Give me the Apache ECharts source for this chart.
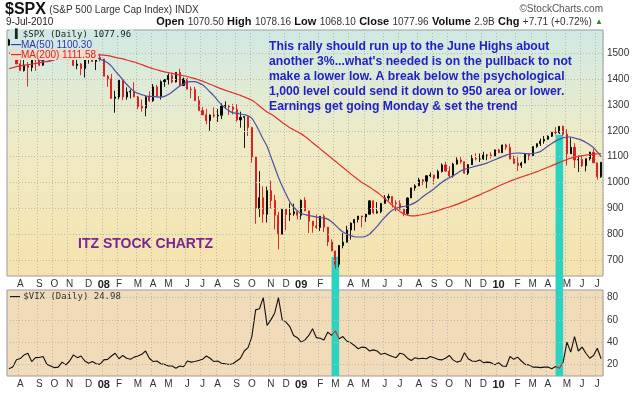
<!DOCTYPE html>
<html>
<head>
<meta charset="utf-8">
<title>$SPX with $VIX</title>
<script src="https://cdn.jsdelivr.net/npm/echarts@6/dist/echarts.min.js"></script>
<style>
  html, body { margin: 0; padding: 0; background: #fff; }
  #main { width: 640px; height: 416px; }
</style>
</head>
<body>
<div id="main"></div>
<script>
// weekly bars (week ending Friday), Jul 2007 - Jul 2010
var weeks = [
  '2007-07-13','2007-07-20','2007-07-27','2007-08-03','2007-08-10','2007-08-17','2007-08-24','2007-08-31',
  '2007-09-07','2007-09-14','2007-09-21','2007-09-28','2007-10-05','2007-10-12','2007-10-19','2007-10-26',
  '2007-11-02','2007-11-09','2007-11-16','2007-11-23','2007-11-30','2007-12-07','2007-12-14','2007-12-21','2007-12-28',
  '2008-01-04','2008-01-11','2008-01-18','2008-01-25','2008-02-01','2008-02-08','2008-02-15','2008-02-22','2008-02-29',
  '2008-03-07','2008-03-14','2008-03-21','2008-03-28','2008-04-04','2008-04-11','2008-04-18','2008-04-25',
  '2008-05-02','2008-05-09','2008-05-16','2008-05-23','2008-05-30','2008-06-06','2008-06-13','2008-06-20','2008-06-27',
  '2008-07-04','2008-07-11','2008-07-18','2008-07-25','2008-08-01','2008-08-08','2008-08-15','2008-08-22','2008-08-29',
  '2008-09-05','2008-09-12','2008-09-19','2008-09-26','2008-10-03','2008-10-10','2008-10-17','2008-10-24','2008-10-31',
  '2008-11-07','2008-11-14','2008-11-21','2008-11-28','2008-12-05','2008-12-12','2008-12-19','2008-12-26',
  '2009-01-02','2009-01-09','2009-01-16','2009-01-23','2009-01-30','2009-02-06','2009-02-13','2009-02-20','2009-02-27',
  '2009-03-06','2009-03-13','2009-03-20','2009-03-27','2009-04-03','2009-04-10','2009-04-17','2009-04-24',
  '2009-05-01','2009-05-08','2009-05-15','2009-05-22','2009-05-29','2009-06-05','2009-06-12','2009-06-19','2009-06-26',
  '2009-07-03','2009-07-10','2009-07-17','2009-07-24','2009-07-31','2009-08-07','2009-08-14','2009-08-21','2009-08-28',
  '2009-09-04','2009-09-11','2009-09-18','2009-09-25','2009-10-02','2009-10-09','2009-10-16','2009-10-23','2009-10-30',
  '2009-11-06','2009-11-13','2009-11-20','2009-11-27','2009-12-04','2009-12-11','2009-12-18','2009-12-25',
  '2010-01-01','2010-01-08','2010-01-15','2010-01-22','2010-01-29','2010-02-05','2010-02-12','2010-02-19','2010-02-26',
  '2010-03-05','2010-03-12','2010-03-19','2010-03-26','2010-04-02','2010-04-09','2010-04-16','2010-04-23','2010-04-30',
  '2010-05-07','2010-05-14','2010-05-21','2010-05-28','2010-06-04','2010-06-11','2010-06-18','2010-06-25','2010-07-02','2010-07-09'
];

var spxOpen = [
  1531,1552,1534,1459,1433,1453,1445,1479,1474,1454,1484,1525,1527,1557,1561,1500,1536,1509,1453,1458,1441,1481,1504,1468,1484,1478,
  1411,1401,1325,1331,1396,1331,1350,1353,1331,1294,1288,1330,1316,1370,1333,1390,1398,1414,1389,1426,1375,1400,1361,1360,1317,1278,
  1262,1239,1261,1257,1260,1296,1298,1292,1283,1242,1252,1255,1213,1099,899,941,877,968,930,873,800,896,876,879,887,873,
  931,890,850,832,826,869,827,770,735,683,756,769,816,843,857,870,866,877,929,882,887,919,940,946,921,918,
  896,879,940,979,987,1010,1005,1026,1029,1016,1042,1068,1044,1025,1071,1087,1080,1036,1069,1093,1091,1091,1106,1106,1102,1126,
  1115,1145,1136,1091,1074,1066,1075,1109,1104,1139,1150,1160,1167,1179,1194,1192,1217,1187,1111,1136,1087,1089,1065,1092,1117,1076,1022
];
var spxHigh = [
  1556,1556,1542,1488,1504,1466,1480,1480,1496,1498,1530,1538,1561,1576,1563,1536,1553,1520,1492,1462,1488,1509,1523,1485,1498,1478,
  1416,1420,1355,1396,1396,1368,1360,1388,1335,1321,1336,1353,1381,1378,1395,1400,1422,1425,1426,1440,1406,1405,1371,1370,1335,1292,
  1285,1263,1291,1285,1306,1314,1300,1304,1303,1274,1256,1255,1214,1099,1044,985,984,1007,952,887,896,896,919,918,887,934,
  943,891,850,877,870,877,827,780,735,758,804,832,845,857,870,871,878,930,930,924,920,951,956,946,931,931,
  898,943,979,993,1018,1013,1027,1039,1029,1049,1074,1080,1063,1076,1097,1101,1081,1071,1106,1113,1112,1119,1108,1117,1128,1130,
  1146,1150,1150,1104,1104,1080,1112,1113,1139,1151,1170,1180,1182,1195,1214,1218,1220,1206,1174,1152,1104,1105,1092,1119,1131,1076,1078
];
var spxLow = [
  1530,1530,1458,1433,1429,1371,1430,1432,1450,1451,1476,1516,1524,1546,1500,1489,1503,1450,1438,1415,1406,1460,1467,1435,1468,1411,
  1370,1325,1270,1322,1318,1320,1325,1330,1283,1274,1256,1312,1312,1331,1321,1370,1379,1384,1387,1373,1373,1361,1326,1316,1278,1260,
  1225,1200,1251,1234,1245,1284,1261,1263,1235,1212,1133,1180,1077,840,866,845,845,899,818,741,800,815,851,871,857,857,
  889,804,805,820,812,808,754,734,666,672,745,767,779,814,845,826,847,877,878,879,881,919,930,903,888,895,
  869,875,940,968,986,990,978,1020,992,1016,1039,1041,1020,1019,1069,1073,1033,1029,1068,1085,1079,1087,1086,1093,1102,1115,
  1115,1126,1090,1071,1044,1056,1075,1086,1104,1134,1141,1150,1165,1176,1186,1188,1181,1066,1111,1056,1040,1060,1043,1085,1076,1011,1018
];
var spxClose = [
  1552,1534,1459,1433,1453,1445,1479,1474,1454,1484,1525,1527,1557,1561,1500,1536,1509,1453,1458,1441,1481,1504,1468,1484,1478,1411,
  1401,1325,1331,1396,1331,1350,1353,1331,1294,1288,1330,1316,1370,1333,1390,1398,1414,1389,1426,1375,1400,1361,1360,1317,1278,1262,
  1239,1261,1257,1260,1296,1298,1292,1283,1242,1252,1255,1213,1099,899,941,877,968,930,873,800,896,876,879,887,873,931,
  890,850,832,826,869,827,770,735,683,756,769,816,843,857,870,866,877,929,882,887,919,940,946,921,918,896,
  879,940,979,987,1010,1005,1026,1029,1016,1042,1068,1044,1025,1071,1087,1080,1036,1069,1093,1091,1091,1106,1106,1102,1126,1115,
  1145,1136,1091,1074,1066,1075,1109,1104,1139,1150,1160,1167,1179,1194,1192,1217,1187,1111,1136,1087,1089,1065,1092,1117,1076,1022,1078
];

var ma50 = [
  1500,1505,1507,1505,1500,1494,1487,1480,1474,1470,1468,1470,1475,1485,1495,1505,1512,1515,1513,1508,1502,1496,1490,1484,1477,1471,
  1463,1450,1432,1415,1398,1380,1365,1352,1345,1340,1335,1333,1333,1331,1330,1333,1340,1350,1362,1373,1381,1388,1390,1390,1385,1378,
  1365,1350,1335,1318,1300,1288,1277,1270,1268,1265,1262,1258,1248,1225,1197,1167,1140,1100,1060,1020,985,955,925,905,890,880,
  876,872,870,866,864,862,858,848,835,820,808,800,795,790,789,789,792,800,815,830,848,865,880,892,900,905,
  907,910,915,922,932,945,955,965,976,988,1000,1010,1018,1026,1035,1044,1050,1055,1059,1063,1067,1071,1076,1082,1088,1094,
  1100,1106,1110,1113,1114,1113,1112,1111,1112,1115,1120,1130,1141,1151,1160,1167,1173,1176,1176,1172,1168,1163,1155,1146,1135,1118,1100
];
var ma200 = [
  1440,1444,1448,1451,1454,1456,1458,1461,1463,1466,1469,1472,1476,1480,1482,1485,1487,1489,1490,1491,1492,1493,1494,1494,1494,1493,
  1491,1488,1484,1481,1478,1474,1470,1466,1461,1456,1450,1445,1440,1436,1432,1428,1425,1422,1419,1416,1413,1410,1406,1402,1397,1392,
  1386,1380,1374,1368,1362,1357,1352,1347,1342,1337,1331,1325,1318,1308,1296,1284,1273,1265,1255,1244,1232,1222,1212,1204,1196,1188,
  1178,1166,1154,1142,1130,1118,1106,1094,1082,1070,1058,1046,1034,1022,1011,1000,991,982,972,962,950,938,925,912,899,888,
  879,873,871,871,873,876,879,883,887,891,896,901,905,910,915,921,927,933,940,946,952,959,965,972,979,986,
  993,999,1005,1011,1016,1021,1026,1031,1036,1041,1047,1053,1059,1065,1071,1077,1083,1089,1094,1098,1101,1104,1106,1108,1109,1111,1112
];

var vix = [
  16.0,17.5,24.2,25.2,28.5,30.0,22.5,26.0,26.2,27.0,20.0,18.5,17.0,17.5,22.0,19.5,23.0,28.5,26.0,27.5,23.0,21.0,22.5,20.5,20.0,24.0,
  24.5,27.5,30.0,25.0,28.0,25.5,24.5,26.5,27.5,29.0,32.0,25.5,22.5,23.0,20.5,20.0,18.5,18.5,16.5,18.5,17.8,23.0,22.0,22.5,23.5,24.5,
  27.5,25.5,22.5,23.0,21.0,20.5,19.8,20.5,23.0,25.5,32.0,35.0,45.0,69.0,70.0,80.0,55.0,60.0,66.0,80.0,60.0,58.0,54.0,46.0,44.0,40.0,
  42.0,46.0,52.0,44.0,43.5,42.0,49.0,46.0,50.0,43.0,45.0,41.0,39.5,37.0,34.0,35.5,35.0,32.0,33.0,32.0,29.0,30.0,28.5,27.0,26.0,30.0,
  29.0,25.5,23.5,26.0,25.0,25.5,25.0,27.0,26.0,24.5,24.0,25.5,28.0,24.0,22.0,23.0,30.5,25.0,23.0,22.5,24.0,21.5,22.0,21.5,19.5,21.5,
  18.5,18.0,27.0,24.5,26.5,23.0,20.0,19.5,17.5,17.5,17.0,17.5,17.5,16.0,18.0,16.5,22.0,40.0,31.0,45.0,32.0,35.5,30.0,25.5,28.0,34.5,25.0
];

var priceTicks = [700, 800, 900, 1000, 1100, 1200, 1300, 1400, 1500];
var vixTicks = [20, 40, 60, 80];
var monthLetters = ['J', 'F', 'M', 'A', 'M', 'J', 'J', 'A', 'S', 'O', 'N', 'D'];
// cyan highlight bands (first week, last week) and the price where they start
var highlights = [['2009-02-27', '2009-03-13'], ['2010-04-16', '2010-04-30']];
var highlightTop = [712, 1185];

var candles = [];
for (var i = 0; i < weeks.length; i++) {
  candles.push([spxOpen[i], spxClose[i], spxLow[i], spxHigh[i]]);
}

function monthStart(index) {
  return index > 0 && weeks[index].slice(5, 7) !== weeks[index - 1].slice(5, 7);
}
function monthLabel(value) {
  var m = parseInt(value.slice(5, 7), 10);
  if (m === 1) {
    return '{y|' + value.slice(2, 4) + '}';
  }
  return monthLetters[m - 1];
}

var gridLine = { color: '#b9b9b0', type: [1, 2], width: 1 };
var cyan = '#2dd3c1';

function timeAxis(gridIndex, show, margin) {
  return {
    type: 'category',
    gridIndex: gridIndex,
    data: weeks,
    show: show,
    boundaryGap: true,
    axisLine: { show: false },
    axisTick: { show: false },
    axisLabel: {
      interval: monthStart,
      formatter: monthLabel,
      margin: margin,
      color: '#333',
      fontSize: 10,
      fontFamily: 'Arial',
      rich: { y: { fontWeight: 'bold', fontSize: 11, color: '#222', fontFamily: 'Arial' } }
    },
    splitLine: { show: true, interval: monthStart, lineStyle: gridLine }
  };
}

function tickLines(ticks) {
  return {
    silent: true,
    symbol: ['none', 'none'],
    lineStyle: gridLine,
    label: {
      position: 'end',
      distance: 4,
      color: '#333',
      fontSize: 10,
      fontFamily: 'Arial',
      formatter: function (p) { return p.value; }
    },
    data: ticks.map(function (v) { return { yAxis: v }; })
  };
}

var myChart = echarts.init(document.getElementById('main'));

myChart.setOption({
  animation: false,
  grid: [
    {
      left: 7, right: 37, top: 30, height: 246,
      show: true, borderColor: '#9c9c9c', borderWidth: 1,
      backgroundColor: {
        type: 'linear', x: 0, y: 0, x2: 0, y2: 1,
        colorStops: [
          { offset: 0, color: '#d0e9e4' },
          { offset: 0.45, color: '#eeebc6' },
          { offset: 1, color: '#f6e2ad' }
        ]
      }
    },
    {
      left: 7, right: 37, top: 290, height: 86,
      show: true, borderColor: '#9c9c9c', borderWidth: 1,
      backgroundColor: '#f1dbb8'
    },
    { left: 7, right: 37, top: 276, height: 14, show: false }
  ],
  xAxis: [
    timeAxis(0, true, 3),
    timeAxis(1, true, 3),
    { type: 'category', gridIndex: 2, data: weeks, show: false }
  ],
  yAxis: [
    { type: 'value', gridIndex: 0, min: 638, max: 1590, show: false },
    { type: 'value', gridIndex: 1, min: 9.5, max: 86.9, show: false },
    { type: 'value', gridIndex: 2, min: 0, max: 1, show: false }
  ],
  visualMap: {
    show: false,
    type: 'piecewise',
    seriesIndex: 4,
    dimension: 0,
    pieces: [
      { gte: weeks.indexOf(highlights[0][0]), lte: weeks.indexOf(highlights[0][1]), color: '#e31b1b' },
      { gte: weeks.indexOf(highlights[1][0]), lte: weeks.indexOf(highlights[1][1]), color: '#e31b1b' }
    ],
    outOfRange: { color: '#111' }
  },
  series: [
    {
      name: '$SPX',
      type: 'candlestick',
      xAxisIndex: 0,
      yAxisIndex: 0,
      data: candles,
      barWidth: 1.6,
      z: 4,
      itemStyle: {
        color: '#000',
        color0: '#d61a1a',
        borderColor: '#000',
        borderColor0: '#d61a1a',
        borderWidth: 0.9
      }
    },
    {
      name: 'MA(50)',
      type: 'line',
      xAxisIndex: 0,
      yAxisIndex: 0,
      data: ma50,
      symbol: 'none',
      smooth: 0.3,
      z: 5,
      lineStyle: { color: '#4b50a6', width: 1.2 }
    },
    {
      name: 'MA(200)',
      type: 'line',
      xAxisIndex: 0,
      yAxisIndex: 0,
      data: ma200,
      symbol: 'none',
      smooth: 0.3,
      z: 5,
      lineStyle: { color: '#e2302b', width: 1.2 }
    },
    {
      name: 'price grid',
      type: 'line',
      xAxisIndex: 0,
      yAxisIndex: 0,
      data: [],
      z: 1,
      markLine: tickLines(priceTicks),
      markArea: {
        silent: true,
        itemStyle: { color: cyan },
        data: [
          [{ xAxis: highlights[0][0], yAxis: highlightTop[0] }, { xAxis: highlights[0][1], yAxis: 638 }],
          [{ xAxis: highlights[1][0], yAxis: highlightTop[1] }, { xAxis: highlights[1][1], yAxis: 638 }]
        ]
      }
    },
    {
      name: '$VIX',
      type: 'line',
      xAxisIndex: 1,
      yAxisIndex: 1,
      data: vix,
      symbol: 'none',
      z: 4,
      lineStyle: { width: 1.1 }
    },
    {
      name: 'vix grid',
      type: 'line',
      xAxisIndex: 1,
      yAxisIndex: 1,
      data: [],
      z: 1,
      markLine: tickLines(vixTicks),
      markArea: {
        silent: true,
        itemStyle: { color: cyan },
        data: [
          [{ xAxis: highlights[0][0] }, { xAxis: highlights[0][1] }],
          [{ xAxis: highlights[1][0] }, { xAxis: highlights[1][1] }]
        ]
      }
    },
    {
      name: 'gap',
      type: 'line',
      xAxisIndex: 2,
      yAxisIndex: 2,
      data: [],
      z: 1,
      markArea: {
        silent: true,
        itemStyle: { color: cyan },
        data: [
          [{ xAxis: highlights[0][0] }, { xAxis: highlights[0][1] }],
          [{ xAxis: highlights[1][0] }, { xAxis: highlights[1][1] }]
        ]
      }
    }
  ],
  graphic: [
    {
      type: 'text', x: 5, y: 10, z: 100,
      style: {
        text: '{b|$SPX} {n|(S&P 500 Large Cap Index) INDX}',
        textVerticalAlign: 'middle',
        rich: {
          b: { font: 'bold 16px Arial', fill: '#111' },
          n: { font: '10px Arial', fill: '#333' }
        }
      }
    },
    {
      type: 'text', x: 603, y: 9, z: 100,
      style: { text: '\u00a9StockCharts.com', font: '10px Arial', fill: '#555', textAlign: 'right', textVerticalAlign: 'middle' }
    },
    {
      type: 'text', x: 6, y: 22, z: 100,
      style: { text: '9-Jul-2010', font: '10px Arial', fill: '#222', textVerticalAlign: 'middle' }
    },
    {
      type: 'text', x: 603, y: 22, z: 100,
      style: {
        text: '{b|Open} {v|1070.50} {b|High} {v|1078.16} {b|Low} {v|1068.10} {b|Close} {v|1077.96} {b|Volume} {v|2.9B} {b|Chg} {v|+7.71 (+0.72%)} {g|\u25b2}',
        textAlign: 'right',
        textVerticalAlign: 'middle',
        rich: {
          b: { font: 'bold 11px Arial', fill: '#111' },
          v: { font: '10px Arial', fill: '#333' },
          g: { font: '8px Arial', fill: '#2a8a2a' }
        }
      }
    },
    // price panel legend
    {
      type: 'text', x: 10, y: 29, z: 100,
      style: {
        text: '\u2590 $SPX (Daily) 1077.96',
        font: '9px "DejaVu Sans Mono"', fill: '#222',
        backgroundColor: '#d2e9e3', padding: [1, 2, 0, 2]
      }
    },
    {
      type: 'text', x: 10, y: 39, z: 100,
      style: {
        text: '{l|\u2014}{t|MA(50) 1100.30}',
        backgroundColor: '#d2e7e6', padding: [1, 2, 0, 1],
        rich: {
          l: { font: 'bold 10px Arial', fill: '#2f37a8' },
          t: { font: '10px Arial', fill: '#2f37a8' }
        }
      }
    },
    {
      type: 'text', x: 10, y: 49, z: 100,
      style: {
        text: '{l|\u2014}{t|MA(200) 1111.58}',
        backgroundColor: '#ecdcc9', padding: [1, 2, 0, 1],
        rich: {
          l: { font: 'bold 10px Arial', fill: '#d62222' },
          t: { font: '10px Arial', fill: '#d62222' }
        }
      }
    },
    {
      type: 'text', x: 269, y: 39, z: 100,
      style: {
        text: 'This rally should run up to the June Highs about\nanother 3%...what\'s needed is on the pullback to not\nmake a lower low. A break below the psychological\n1,000 level could send it down to 950 area or lower.\nEarnings get going Monday & set the trend',
        font: 'bold 12.2px Arial', fill: '#1f23c6', lineHeight: 15
      }
    },
    {
      type: 'text', x: 78, y: 244, z: 100,
      style: { text: 'ITZ STOCK CHARTZ', font: 'bold 14px Arial', fill: '#7a2590', textVerticalAlign: 'middle' }
    },
    // vix panel legend
    {
      type: 'text', x: 10, y: 291, z: 100,
      style: {
        text: '{l|\u2014} {t|$VIX (Daily) 24.98}',
        rich: {
          l: { font: 'bold 10px Arial', fill: '#111' },
          t: { font: '9px "DejaVu Sans Mono"', fill: '#333' }
        }
      }
    }
  ]
});
</script>
</body>
</html>
